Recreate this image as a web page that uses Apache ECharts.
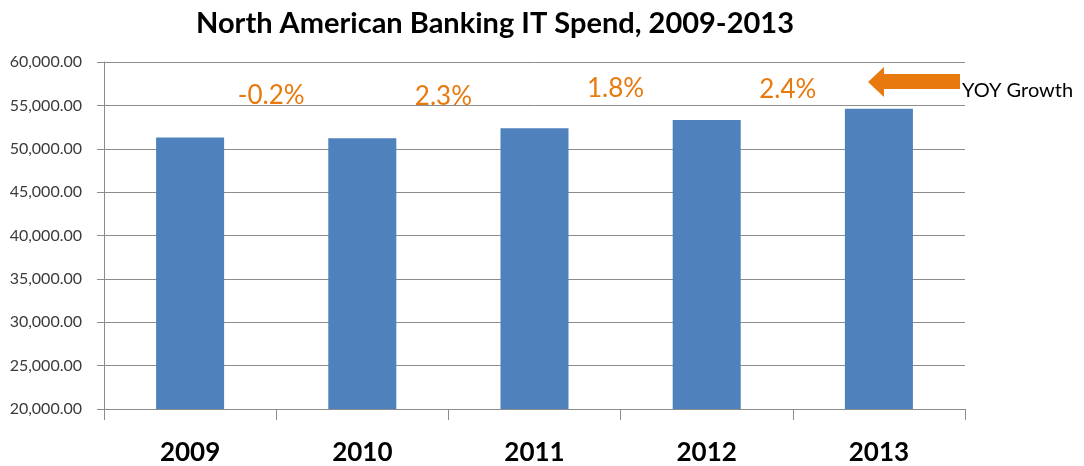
<!DOCTYPE html>
<html>
<head>
<meta charset="utf-8">
<script src="https://cdn.jsdelivr.net/npm/echarts@6/dist/echarts.min.js"></script>
<style>
  html, body { margin: 0; padding: 0; background: #ffffff; }
  #chart { width: 1084px; height: 466px; }
</style>
</head>
<body>
<div id="chart"></div>
<script>
// North American banking IT spend by year
const years = ['2009', '2010', '2011', '2012', '2013'];
const spend = [51300, 51197, 52375, 53318, 54598];
// Year-over-year growth shown between consecutive bars
const growth = ['-0.2%', '2.3%', '1.8%', '2.4%'];
const yTicks = [20000, 25000, 30000, 35000, 40000, 45000, 50000, 55000, 60000];

const orange = '#E8790C';
const fontStack = 'Lato, "Open Sans", "DejaVu Sans", sans-serif';

const chart = echarts.init(document.getElementById('chart'));

// vertical nudges for the growth labels (pixels)
const growthLift = [-1, -2, 6, 5];

chart.setOption({
  animation: false,
  backgroundColor: '#ffffff',
  title: {
    text: 'North American Banking IT Spend, 2009-2013',
    left: 490,
    textAlign: 'center',
    top: 4,
    textStyle: {
      fontFamily: fontStack,
      fontWeight: 'bold',
      fontSize: 29,
      color: '#000000'
    }
  },
  grid: { left: 104, right: 119, top: 62, bottom: 56, containLabel: false },
  xAxis: [
    {
      type: 'category',
      data: years,
      axisLine: { lineStyle: { color: '#8c8c8c', width: 1 } },
      axisTick: { show: true, length: 11, lineStyle: { color: '#8c8c8c' } },
      axisLabel: {
        margin: 31,
        fontFamily: fontStack,
        fontWeight: 'bold',
        fontSize: 26,
        color: '#000000'
      }
    },
    {
      type: 'value',
      min: 0,
      max: years.length,
      show: false
    }
  ],
  yAxis: {
    type: 'value',
    min: yTicks[0],
    max: yTicks[yTicks.length - 1],
    interval: 5000,
    axisLine: { show: true, lineStyle: { color: '#8c8c8c' } },
    axisTick: { show: true, length: 7, lineStyle: { color: '#8c8c8c' } },
    splitLine: { lineStyle: { color: '#8c8c8c', width: 1 } },
    axisLabel: {
      margin: 22,
      fontFamily: fontStack,
      fontSize: 16,
      color: '#3a3a3a',
      formatter: v => v.toLocaleString('en-US', { minimumFractionDigits: 2, maximumFractionDigits: 2 })
    }
  },
  series: [
    {
      type: 'bar',
      data: spend,
      barWidth: '39.5%',
      itemStyle: { color: '#4F81BD' }
    },
    {
      type: 'scatter',
      xAxisIndex: 1,
      symbolSize: 0,
      silent: true,
      itemStyle: { opacity: 1 },
      data: growth.map((g, i) => ({
        value: [i + 1, 56200],
        label: { offset: [-5, -growthLift[i]] }
      })),
      label: {
        show: true,
        position: 'inside',
        formatter: p => growth[p.dataIndex],
        fontFamily: fontStack,
        fontSize: 26,
        color: orange,
        opacity: 1
      }
    }
  ],
  graphic: [
    {
      type: 'polygon',
      shape: {
        points: [[868, 82], [884, 67], [884, 74], [960, 74], [960, 89], [884, 89], [884, 97]]
      },
      style: { fill: orange }
    },
    {
      type: 'text',
      left: 962,
      top: 81,
      style: {
        text: 'YOY Growth',
        fontFamily: fontStack,
        fontSize: 20,
        fill: '#000000'
      }
    }
  ]
});
</script>
</body>
</html>
